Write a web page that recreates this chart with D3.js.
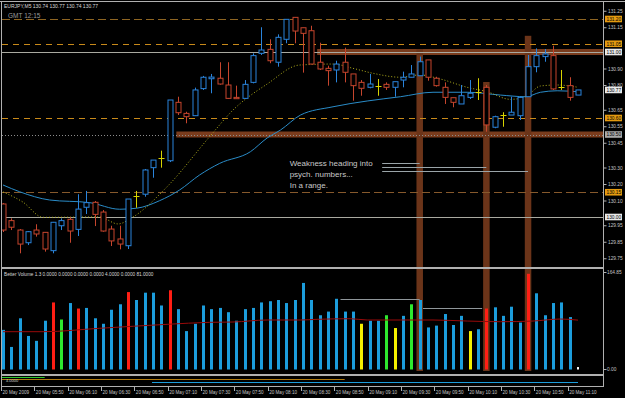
<!DOCTYPE html>
<html>
<head>
<meta charset="utf-8">
<style>
  body { margin: 0; background: #000; }
  svg { display: block; font-family: "Liberation Sans", Arial, sans-serif; }
</style>
</head>
<body>
<svg id="chart" width="625" height="398"></svg>
<script src="https://d3js.org/d3.v7.min.js"></script>
<script>
// EURJPY M5, 20 May 2009, bars 05:30 .. 11:15
const opens  = [130.079,129.978,129.921,129.844,129.921,129.907,129.796,129.947,129.986,129.925,
                130.059,130.089,130.030,129.927,129.867,129.826,130.127,130.138,130.299,130.359,
                130.341,130.695,130.628,130.614,130.778,130.838,130.841,130.800,130.725,130.719,
                130.816,130.992,131.016,130.938,131.077,131.210,131.147,131.129,130.938,130.901,
                130.891,130.938,130.867,130.816,130.786,130.796,130.804,130.786,130.830,130.847,
                130.856,130.952,130.841,130.786,130.723,130.685,130.725,130.759,130.786,130.544,
                130.618,130.618,130.614,130.729,130.911,130.972,130.978,130.786,130.796,130.739];
const highs  = [130.085,129.992,129.927,129.915,129.956,129.909,129.970,129.992,129.998,130.138,
                130.158,130.097,130.042,129.947,129.947,130.109,130.158,130.291,130.345,130.402,
                130.709,130.729,130.638,130.784,130.855,130.867,130.938,130.938,130.796,130.830,
                130.992,131.150,131.077,131.107,131.198,131.210,131.147,131.159,131.056,130.917,
                130.947,131.026,130.867,130.830,130.867,130.836,130.816,130.820,130.881,130.921,
                130.972,130.952,130.850,130.816,130.723,130.800,130.830,130.841,130.800,130.614,
                130.635,130.729,130.729,130.982,131.022,131.018,131.038,130.891,130.847,130.770];
const lows   = [129.909,129.921,129.780,129.830,129.881,129.790,129.780,129.921,129.844,129.885,
                130.018,129.945,129.911,129.824,129.804,129.806,130.056,130.123,130.238,130.299,
                130.333,130.618,130.568,130.612,130.770,130.750,130.802,130.717,130.715,130.715,
                130.810,130.982,130.932,130.911,131.053,131.053,130.875,130.927,130.891,130.796,
                130.816,130.816,130.705,130.735,130.780,130.735,130.770,130.729,130.786,130.847,
                130.856,130.826,130.790,130.685,130.665,130.685,130.715,130.709,130.517,130.538,
                130.547,130.618,130.588,130.729,130.877,130.941,130.770,130.770,130.705,130.739];
const closes = [129.921,129.938,129.836,129.911,129.897,129.806,129.968,129.978,129.915,130.048,
                130.087,130.016,129.915,129.855,129.836,130.109,130.127,130.285,130.345,130.359,
                130.709,130.632,130.608,130.770,130.847,130.848,130.806,130.719,130.717,130.804,
                130.978,131.012,130.947,131.089,131.198,131.127,131.113,130.927,130.897,130.887,
                130.927,130.877,130.796,130.780,130.806,130.796,130.786,130.820,130.847,130.867,
                130.941,130.847,130.796,130.725,130.695,130.735,130.750,130.759,130.558,130.608,
                130.618,130.635,130.725,130.911,130.978,130.988,130.776,130.786,130.725,130.770];

// tick volume and Better Volume colour class per bar
const volumes = [65,37,84,55,47,80,110,82,109,100,101,84,75,98,107,127,114,126,126,105,
                 130,99,63,75,105,99,101,94,80,99,101,110,112,114,109,114,142,114,89,95,
                 116,95,95,75,80,80,89,68,88,107,114,69,72,91,73,88,63,66,100,102,
                 88,103,77,157,125,89,109,110,86,4];
const volTypes = ["b","b","b","b","b","b","r","g","b","r","b","b","b","b","b","r","b","b","b","b",
                  "r","b","b","b","b","b","b","b","b","b","b","b","b","b","b","b","b","b","b","b",
                  "b","b","b","y","b","b","g","y","b","g","b","b","b","b","b","b","y","b","r","b",
                  "b","b","b","r","b","b","b","b","b","w"];

// moving averages read at bar positions
const fastMaBars = [0,2.4,4.8,11.6,13.8,15.6,19.7,24.8,27.6,31.7,35.6,39.6,42,44.4,47.7,50,52.5,55.7,58.1,60.9,62.7,64.5,66.5,69];
const fastMaVals = [130.152,130.090,129.998,130.000,129.958,130.000,130.184,130.487,130.648,130.806,130.921,130.927,130.901,130.871,130.847,130.861,130.836,130.786,130.759,130.713,130.729,130.794,130.800,130.786];
const slowMaBars = [0,2,5.6,10.4,14,16,18.8,21.2,23.6,26,29.7,31.7,33.3,35.7,39.6,43.7,47.7,51.6,55.7,59.7,62.7,64.5,66.5,69];
const slowMaVals = [130.194,130.153,130.103,130.087,130.047,130.053,130.099,130.164,130.255,130.325,130.396,130.479,130.527,130.618,130.668,130.703,130.729,130.756,130.756,130.739,130.729,130.756,130.765,130.759];
const volMaBars = [0,4.8,11.6,19.7,24.8,27.6,31.7,35.7,37.7,41.7,43.7,47.7,51.6,55.7,59.7,63.6,66.9,69];
const volMaVals = [62,62,67.6,74.1,77.4,77.9,81.2,81.2,82.3,83.3,81.2,81.2,81.2,79.5,78.4,79.5,82.8,81];

// levels and drawn objects
const dashedLevels = [131.20, 131.05, 130.60, 130.15];
const solidLevels = [131.00, 130.00];
const dottedLevels = [130.50];
const bidPrice = 130.77;
const zoneLevels = [131.00, 130.50];
const zoneFromBar = [37.7, 20.8];
const markBars = [50, 58, 63];
const markTops = [131.00, 130.80, 131.08];
const noteLines = ["Weakness heading into", "psych. numbers...", "In a range."];
const noteBar = 34.4, notePrice = 130.312;
const linkFromBar = 45.5;
const linkToBars = [50, 58, 63];
const linkPrices = [130.325, 130.305, 130.279];
const volRefFrom = [40.5, 50.4], volRefTo = [50, 57.5], volRefVals = [115.1, 101.4];

// axes
const priceTicks = [131.25,131.15,130.90,130.80,130.65,130.55,130.45,130.30,130.20,130.10,129.95,129.85,129.75];
const timeBars = [0,4,8,12,16,20,24,28,32,36,40,44,48,52,56,60,64,68];
const timeLabels = ["20 May 2009","20 May 05:50","20 May 06:10","20 May 06:30","20 May 06:50","20 May 07:10",
                    "20 May 07:30","20 May 07:50","20 May 08:10","20 May 08:30","20 May 08:50","20 May 09:10",
                    "20 May 09:30","20 May 09:50","20 May 10:10","20 May 10:30","20 May 10:50","20 May 11:10"];

// bottom strip lines
const lowerFrom = [0, 0, 18], lowerTo = [5, 41, 69], lowerVals = [0.79, 0.64, 0.34];

const svg = d3.select("#chart");
svg.append("rect").attr("width", 625).attr("height", 398).attr("fill", "#000");

const x = d3.scaleLinear().domain([0, 69]).range([3, 578]);
const y = d3.scaleLinear().domain([129.75, 131.25]).range([258.25, 10.75]);
const yv = d3.scaleLinear().domain([0, 164.85]).range([369.5, 269]);
const yl = d3.scaleLinear().domain([0, 1]).range([386, 375]);
const px = v => Math.round(v) + 0.5;

const defs = svg.append("defs");
defs.append("clipPath").attr("id", "mainClip").append("rect").attr("x", 2).attr("y", 2).attr("width", 601).attr("height", 265);
defs.append("clipPath").attr("id", "volClip").append("rect").attr("x", 2).attr("y", 269).attr("width", 601).attr("height", 105);

// brown zones
const bandG = svg.append("g");
bandG.selectAll("rect.zone").data(zoneLevels).join("rect")
  .attr("x", (d, i) => x(zoneFromBar[i])).attr("y", d => y(d) - 3)
  .attr("width", (d, i) => 603 - x(zoneFromBar[i])).attr("height", 6)
  .attr("fill", "#7a3c1d");
bandG.selectAll("rect.mark").data(markBars).join("rect")
  .attr("x", d => x(d) - 3.2).attr("y", (d, i) => y(markTops[i]) - 3)
  .attr("width", 6.5).attr("height", (d, i) => 371 - y(markTops[i]) + 3)
  .attr("fill", "#6b3419");

const main = svg.append("g").attr("clip-path", "url(#mainClip)");

// level lines
const dashColors = ["#8e6522", "#c98a1a", "#c98a1a", "#86592c"];
const dashPattern = ["8,4", "6,5", "6,5", "8,4"];
main.selectAll("line.dash").data(dashedLevels).join("line")
  .attr("x1", 2).attr("x2", 603).attr("y1", d => px(y(d))).attr("y2", d => px(y(d)))
  .attr("stroke", (d, i) => dashColors[i]).attr("stroke-dasharray", (d, i) => dashPattern[i]);
main.selectAll("line.solid").data(solidLevels).join("line")
  .attr("x1", 2).attr("x2", 603).attr("y1", d => px(y(d))).attr("y2", d => px(y(d)))
  .attr("stroke", "#a9a9a0");
main.selectAll("line.dot").data(dottedLevels).join("line")
  .attr("x1", 2).attr("x2", 603).attr("y1", d => px(y(d))).attr("y2", d => px(y(d)))
  .attr("stroke", "#8c8c8c").attr("stroke-dasharray", "1,2");

// moving averages
const maLine = (bars, vals, sy) => d3.line().x((d, i) => x(bars[i])).y(d => sy(d)).curve(d3.curveMonotoneX)(vals);
main.append("path").attr("d", maLine(slowMaBars, slowMaVals, y))
  .attr("fill", "none").attr("stroke", "#2a8cc8").attr("stroke-width", 1);
main.append("path").attr("d", maLine(fastMaBars, fastMaVals, y))
  .attr("fill", "none").attr("stroke", "#b3b01c").attr("stroke-width", 1).attr("stroke-dasharray", "1,2");

// candles
const bars = d3.range(opens.length);
const candleColor = i => opens[i] === closes[i] ? "#d8d400" : closes[i] > opens[i] ? "#2a84dc" : "#c6452d";
const candles = main.append("g");
candles.selectAll("line.wick").data(bars).join("line")
  .attr("x1", i => px(x(i))).attr("x2", i => px(x(i)))
  .attr("y1", i => y(highs[i])).attr("y2", i => y(lows[i]))
  .attr("stroke", candleColor);
candles.selectAll("rect.body").data(bars.filter(i => opens[i] !== closes[i])).join("rect")
  .attr("x", i => px(x(i)) - 2.5).attr("width", 5)
  .attr("y", i => y(Math.max(opens[i], closes[i])))
  .attr("height", i => Math.max(1, Math.abs(y(opens[i]) - y(closes[i]))))
  .attr("fill", "#000").attr("stroke", candleColor);
candles.selectAll("line.doji").data(bars.filter(i => opens[i] === closes[i])).join("line")
  .attr("x1", i => px(x(i)) - 3).attr("x2", i => px(x(i)) + 3)
  .attr("y1", i => px(y(opens[i]))).attr("y2", i => px(y(opens[i])))
  .attr("stroke", candleColor);

// annotation
main.selectAll("text.note").data(noteLines).join("text")
  .attr("x", x(noteBar)).attr("y", (d, i) => y(notePrice) + i * 11)
  .attr("fill", "#c8c8c8").attr("font-size", 8).text(d => d);
main.selectAll("line.link").data(linkToBars).join("line")
  .attr("x1", x(linkFromBar)).attr("x2", d => x(d))
  .attr("y1", (d, i) => px(y(linkPrices[i]))).attr("y2", (d, i) => px(y(linkPrices[i])))
  .attr("stroke", "#9aa4a8");

// header
svg.append("text").attr("x", 4).attr("y", 8).attr("font-size", 5).attr("fill", "#d8d8d8")
  .text("EURJPY,M5  130.74 130.77 130.74 130.77");
svg.append("text").attr("x", 8).attr("y", 17.5).attr("font-size", 6.5).attr("fill", "#9a9a9a")
  .text("GMT 12:15");

// volume panel
const vol = svg.append("g").attr("clip-path", "url(#volClip)");
const volColor = { b: "#1c9ddc", r: "#ff1e14", g: "#2ee82e", y: "#f4f000", w: "#ffffff" };
vol.selectAll("rect.vol").data(bars).join("rect")
  .attr("x", i => Math.round(x(i)) - 1).attr("width", i => volTypes[i] === "w" ? 2 : 3)
  .attr("y", i => yv(volumes[i])).attr("height", i => yv(0) - yv(volumes[i]))
  .attr("fill", i => volColor[volTypes[i]]);
vol.append("path").attr("d", maLine(volMaBars, volMaVals, yv))
  .attr("fill", "none").attr("stroke", "#9a0a0a").attr("stroke-width", 1);
vol.selectAll("line.vref").data(volRefVals).join("line")
  .attr("x1", (d, i) => x(volRefFrom[i])).attr("x2", (d, i) => x(volRefTo[i]))
  .attr("y1", d => px(yv(d))).attr("y2", d => px(yv(d)))
  .attr("stroke", "#8f969a");
svg.append("text").attr("x", 4).attr("y", 276).attr("font-size", 4.7).attr("fill", "#d8d8d8")
  .text("Better Volume 1.3 0.0000 0.0000 0.0000 0.0000 4.0000 0.0000 81.0000");

// bottom strip
const lowerColors = ["#2ec82e", "#b07c12", "#1c9ddc"];
svg.selectAll("line.lower").data(lowerVals).join("line")
  .attr("x1", (d, i) => x(lowerFrom[i]) - 1).attr("x2", (d, i) => x(lowerTo[i]))
  .attr("y1", d => px(yl(d))).attr("y2", d => px(yl(d)))
  .attr("stroke", (d, i) => lowerColors[i]);
svg.append("text").attr("x", 6).attr("y", 381.5).attr("font-size", 4).attr("fill", "#d0d0d0").text("4.0000");

// frame and separators
const frame = "#b0b0b0";
svg.append("line").attr("x1", 0).attr("x2", 625).attr("y1", 1.5).attr("y2", 1.5).attr("stroke", frame);
svg.append("line").attr("x1", 1.5).attr("x2", 1.5).attr("y1", 1).attr("y2", 387).attr("stroke", frame);
svg.append("rect").attr("x", 2).attr("y", 267).attr("width", 601).attr("height", 2).attr("fill", frame);
svg.append("rect").attr("x", 2).attr("y", 374).attr("width", 601).attr("height", 2).attr("fill", frame);
svg.append("line").attr("x1", 603.5).attr("x2", 603.5).attr("y1", 1).attr("y2", 387).attr("stroke", frame);
svg.append("line").attr("x1", 1).attr("x2", 604).attr("y1", 386.5).attr("y2", 386.5).attr("stroke", frame);

// price axis
const yAxis = svg.append("g").attr("transform", "translate(603.5,0)")
  .call(d3.axisRight(y).tickValues(priceTicks).tickSize(3).tickPadding(1.5).tickFormat(d3.format(".2f")));
yAxis.select(".domain").remove();
yAxis.selectAll("line").attr("stroke", frame);
yAxis.selectAll("text").attr("fill", "#c4c4c4").attr("font-size", 4.8).attr("font-family", "Liberation Sans, Arial");

// boxed price labels
const boxLevels = dashedLevels.concat(solidLevels, dottedLevels, [bidPrice]);
const boxFill = d => dashedLevels.includes(d) ? "#e49a10" : dottedLevels.includes(d) ? "#a8a8a8" : "#e8e8e8";
const boxes = svg.selectAll("g.box").data(boxLevels).join("g")
  .attr("transform", d => `translate(605,${y(d)})`);
boxes.append("rect").attr("x", 0).attr("y", -3.3).attr("width", 17).attr("height", 6.6).attr("fill", boxFill);
boxes.append("text").attr("x", 1.5).attr("y", 1.8).attr("font-size", 4.8).attr("fill", "#000")
  .text(d => d3.format(".2f")(d));

// volume axis labels
svg.append("text").attr("x", 607).attr("y", 274).attr("font-size", 4.8).attr("fill", "#c4c4c4").text("164.85");
svg.append("text").attr("x", 607).attr("y", 371).attr("font-size", 4.8).attr("fill", "#c4c4c4").text("0.00");
svg.append("line").attr("x1", 603.5).attr("x2", 606.5).attr("y1", 272.5).attr("y2", 272.5).attr("stroke", frame);
svg.append("line").attr("x1", 603.5).attr("x2", 606.5).attr("y1", 369.5).attr("y2", 369.5).attr("stroke", frame);

// time axis
const tx = svg.append("g");
tx.selectAll("line.tick").data(timeBars).join("line")
  .attr("x1", d => px(x(d) - 2)).attr("x2", d => px(x(d) - 2))
  .attr("y1", 386.5).attr("y2", 391)
  .attr("stroke", frame);
tx.selectAll("text.tl").data(timeBars).join("text")
  .attr("x", d => x(d) - 0.5).attr("y", 393.5)
  .attr("font-size", 4.6).attr("fill", "#c4c4c4")
  .text((d, i) => timeLabels[i]);
</script>
</body>
</html>
